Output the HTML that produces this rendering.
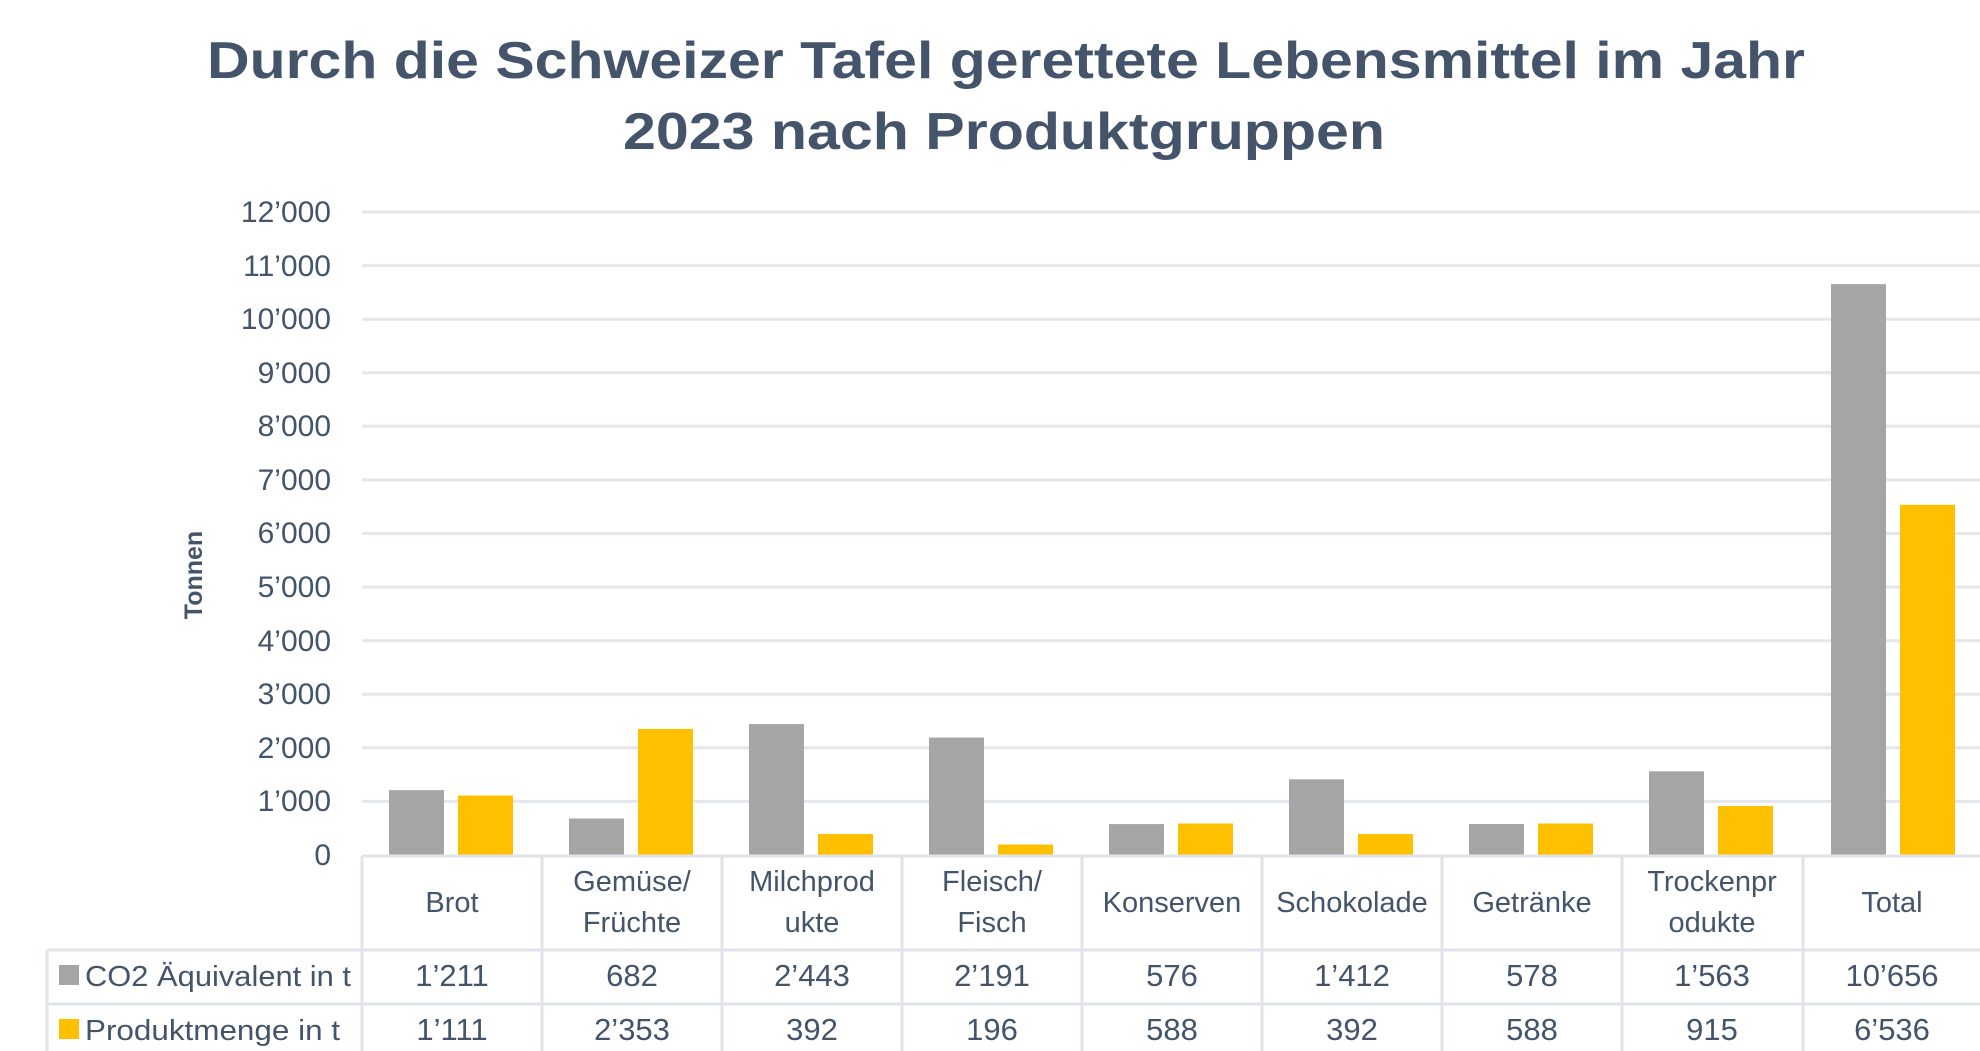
<!DOCTYPE html>
<html><head><meta charset="utf-8"><style>
html,body{margin:0;padding:0;background:#fff;}
svg{display:block;}
text{font-family:"Liberation Sans",sans-serif;fill:#44546a;}
</style></head><body>
<svg width="1980" height="1051" viewBox="0 0 1980 1051" xmlns="http://www.w3.org/2000/svg">
<rect width="1980" height="1051" fill="#fff"/>
<text x="1006" y="78" font-size="52" font-weight="bold" text-anchor="middle" textLength="1598" lengthAdjust="spacingAndGlyphs">Durch die Schweizer Tafel gerettete Lebensmittel im Jahr</text>
<text x="1004" y="149" font-size="52" font-weight="bold" text-anchor="middle" textLength="762" lengthAdjust="spacingAndGlyphs">2023 nach Produktgruppen</text>
<g stroke="#e3e6ec" stroke-width="3">
<line x1="362" x2="1980" y1="212" y2="212"/>
<line x1="362" x2="1980" y1="265.6" y2="265.6"/>
<line x1="362" x2="1980" y1="319.2" y2="319.2"/>
<line x1="362" x2="1980" y1="372.8" y2="372.8"/>
<line x1="362" x2="1980" y1="426.3" y2="426.3"/>
<line x1="362" x2="1980" y1="479.9" y2="479.9"/>
<line x1="362" x2="1980" y1="533.5" y2="533.5"/>
<line x1="362" x2="1980" y1="587.1" y2="587.1"/>
<line x1="362" x2="1980" y1="640.7" y2="640.7"/>
<line x1="362" x2="1980" y1="694.3" y2="694.3"/>
<line x1="362" x2="1980" y1="747.8" y2="747.8"/>
<line x1="362" x2="1980" y1="801.4" y2="801.4"/>
</g>
<g font-size="30" text-anchor="end">
<text x="331" y="222">12’000</text>
<text x="331" y="276">11’000</text>
<text x="331" y="329">10’000</text>
<text x="331" y="383">9’000</text>
<text x="331" y="436">8’000</text>
<text x="331" y="490">7’000</text>
<text x="331" y="543">6’000</text>
<text x="331" y="597">5’000</text>
<text x="331" y="651">4’000</text>
<text x="331" y="704">3’000</text>
<text x="331" y="758">2’000</text>
<text x="331" y="811">1’000</text>
<text x="331" y="865">0</text>
</g>
<text transform="translate(202,575) rotate(-90)" font-size="25" font-weight="bold" text-anchor="middle">Tonnen</text>
<g id="bars">
<rect x="389" y="790.1" width="55" height="64.9" fill="#a5a5a5"/>
<rect x="569" y="818.5" width="55" height="36.5" fill="#a5a5a5"/>
<rect x="749" y="724.1" width="55" height="130.9" fill="#a5a5a5"/>
<rect x="929" y="737.6" width="55" height="117.4" fill="#a5a5a5"/>
<rect x="1109" y="824.1" width="55" height="30.9" fill="#a5a5a5"/>
<rect x="1289" y="779.3" width="55" height="75.7" fill="#a5a5a5"/>
<rect x="1469" y="824.0" width="55" height="31.0" fill="#a5a5a5"/>
<rect x="1649" y="771.3" width="55" height="83.7" fill="#a5a5a5"/>
<rect x="1831" y="284.1" width="55" height="570.9" fill="#a5a5a5"/>
<rect x="458" y="795.5" width="55" height="59.5" fill="#ffc000"/>
<rect x="638" y="728.9" width="55" height="126.1" fill="#ffc000"/>
<rect x="818" y="834.0" width="55" height="21.0" fill="#ffc000"/>
<rect x="998" y="844.5" width="55" height="10.5" fill="#ffc000"/>
<rect x="1178" y="823.5" width="55" height="31.5" fill="#ffc000"/>
<rect x="1358" y="834.0" width="55" height="21.0" fill="#ffc000"/>
<rect x="1538" y="823.5" width="55" height="31.5" fill="#ffc000"/>
<rect x="1718" y="806.0" width="55" height="49.0" fill="#ffc000"/>
<rect x="1900" y="504.8" width="55" height="350.2" fill="#ffc000"/>
</g>
<g stroke="#dfe3ea" stroke-width="3" fill="none">
<line x1="362" x2="1980" y1="856" y2="856"/>
<line x1="47" x2="1980" y1="950" y2="950"/>
<line x1="47" x2="1980" y1="1004" y2="1004"/>
<line x1="47" y1="950" x2="47" y2="1051"/>
<line x1="362" y1="856" x2="362" y2="1051"/>
<line x1="542" y1="856" x2="542" y2="1051"/>
<line x1="722" y1="856" x2="722" y2="1051"/>
<line x1="902" y1="856" x2="902" y2="1051"/>
<line x1="1082" y1="856" x2="1082" y2="1051"/>
<line x1="1262" y1="856" x2="1262" y2="1051"/>
<line x1="1442" y1="856" x2="1442" y2="1051"/>
<line x1="1622" y1="856" x2="1622" y2="1051"/>
<line x1="1803" y1="856" x2="1803" y2="1051"/>
</g>
<g font-size="29" text-anchor="middle">
<text x="452" y="912">Brot</text>
<text x="632" y="891">Gemüse/</text><text x="632" y="932">Früchte</text>
<text x="812" y="891">Milchprod</text><text x="812" y="932">ukte</text>
<text x="992" y="891">Fleisch/</text><text x="992" y="932">Fisch</text>
<text x="1172" y="912">Konserven</text>
<text x="1352" y="912">Schokolade</text>
<text x="1532" y="912">Getränke</text>
<text x="1712" y="891">Trockenpr</text><text x="1712" y="932">odukte</text>
<text x="1892" y="912">Total</text>
</g>
<g font-size="31" text-anchor="middle">
<text x="452" y="986">1’211</text><text x="632" y="986">682</text><text x="812" y="986">2’443</text><text x="992" y="986">2’191</text><text x="1172" y="986">576</text><text x="1352" y="986">1’412</text><text x="1532" y="986">578</text><text x="1712" y="986">1’563</text><text x="1892" y="986">10’656</text>
<text x="452" y="1040">1’111</text><text x="632" y="1040">2’353</text><text x="812" y="1040">392</text><text x="992" y="1040">196</text><text x="1172" y="1040">588</text><text x="1352" y="1040">392</text><text x="1532" y="1040">588</text><text x="1712" y="1040">915</text><text x="1892" y="1040">6’536</text>
</g>
<rect x="59" y="965" width="20" height="20" fill="#a5a5a5"/>
<rect x="59" y="1019" width="20" height="20" fill="#ffc000"/>
<text x="85" y="986" font-size="29" textLength="266" lengthAdjust="spacingAndGlyphs">CO2 Äquivalent in t</text>
<text x="85" y="1040" font-size="29" textLength="255" lengthAdjust="spacingAndGlyphs">Produktmenge in t</text>
</svg>
</body></html>
